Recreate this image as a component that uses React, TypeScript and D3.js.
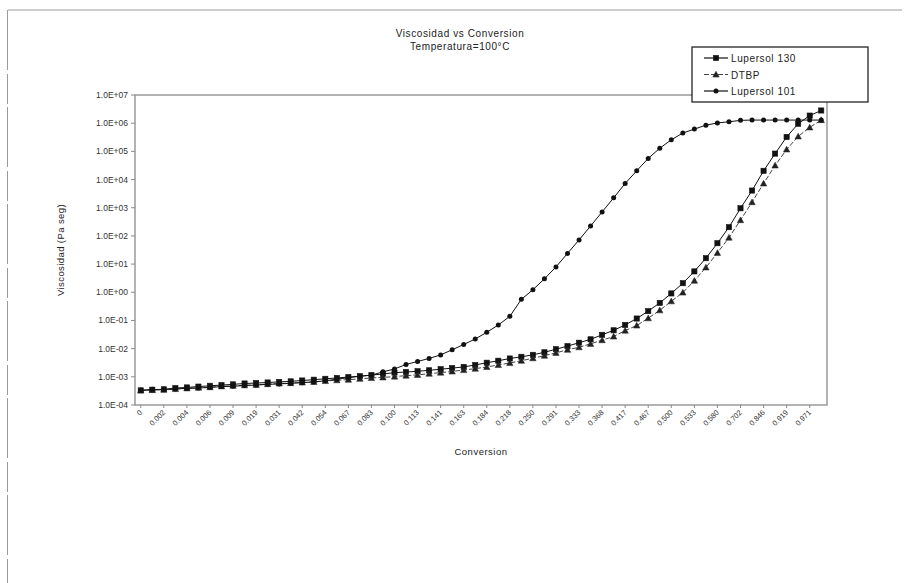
import React from "react";
import * as d3 from "d3";

// Viscosity vs conversion for three initiators at 100 °C (log scale)

const tickLabels = [
  "0", "0.002", "0.004", "0.006", "0.009", "0.019", "0.031", "0.042", "0.054", "0.067",
  "0.083", "0.100", "0.113", "0.141", "0.163", "0.184", "0.218", "0.250", "0.291", "0.333",
  "0.368", "0.417", "0.467", "0.500", "0.533", "0.580", "0.702", "0.846", "0.919", "0.971",
];

const yTickValues = [1e7, 1e6, 1e5, 1e4, 1e3, 1e2, 1e1, 1e0, 1e-1, 1e-2, 1e-3, 1e-4];

const lupersol130 = [
  3.3e-4, 3.5e-4, 3.6e-4, 4.0e-4, 4.2e-4, 4.5e-4, 4.8e-4, 5.1e-4, 5.4e-4, 5.8e-4,
  6.0e-4, 6.3e-4, 6.6e-4, 6.9e-4, 7.4e-4, 7.9e-4, 8.5e-4, 9.1e-4, 9.8e-4, 1.05e-3,
  1.15e-3, 1.26e-3, 1.41e-3, 1.48e-3, 1.58e-3, 1.7e-3, 1.86e-3, 2.04e-3, 2.24e-3, 2.63e-3,
  3.16e-3, 3.72e-3, 4.47e-3, 5.13e-3, 6.03e-3, 7.41e-3, 9.55e-3, 1.23e-2, 1.62e-2, 2.14e-2,
  3.09e-2, 4.47e-2, 6.92e-2, 0.117, 0.214, 0.42, 0.91, 2.1, 5.5, 16.2,
  55, 204, 955, 4070, 20400, 83200, 324000, 955000, 1.86e6, 2.82e6,
];

const dtbp = [
  3.3e-4, 3.4e-4, 3.5e-4, 3.7e-4, 3.9e-4, 4.1e-4, 4.3e-4, 4.6e-4, 4.8e-4, 5.0e-4,
  5.2e-4, 5.5e-4, 5.8e-4, 6.0e-4, 6.3e-4, 6.6e-4, 7.1e-4, 7.6e-4, 7.9e-4, 8.5e-4,
  9.1e-4, 9.5e-4, 1.02e-3, 1.1e-3, 1.17e-3, 1.29e-3, 1.41e-3, 1.55e-3, 1.74e-3, 1.95e-3,
  2.24e-3, 2.63e-3, 3.09e-3, 3.72e-3, 4.57e-3, 5.62e-3, 7.08e-3, 9.12e-3, 1.12e-2, 1.48e-2,
  2.0e-2, 2.69e-2, 4.37e-2, 6.61e-2, 0.12, 0.229, 0.479, 0.977, 2.57, 7.59,
  25.1, 87, 363, 1580, 7240, 31600, 117000, 339000, 708000, 1.29e6,
];

const lupersol101 = [
  3.3e-4, 3.5e-4, 3.5e-4, 3.7e-4, 3.9e-4, 4.0e-4, 4.2e-4, 4.5e-4, 4.6e-4, 4.9e-4,
  5.1e-4, 5.4e-4, 5.6e-4, 5.9e-4, 6.2e-4, 6.6e-4, 7.2e-4, 8.3e-4, 9.3e-4, 1.05e-3,
  1.15e-3, 1.5e-3, 1.9e-3, 2.75e-3, 3.5e-3, 4.5e-3, 6.0e-3, 9.1e-3, 1.4e-2, 2.2e-2,
  3.8e-2, 6.9e-2, 0.14, 0.56, 1.23, 3.0, 7.9, 24, 72, 224,
  708, 2240, 7240, 20400, 56200, 129000, 257000, 447000, 617000, 851000,
  1.02e6, 1.12e6, 1.26e6, 1.29e6, 1.29e6, 1.29e6, 1.29e6, 1.29e6, 1.29e6, 1.29e6,
];

const seriesNames = ["Lupersol 130", "DTBP", "Lupersol 101"];

const W = 910;
const H = 583;
const plot = { left: 135, right: 827, top: 95, bottom: 405 };
const FONT = "'Liberation Sans', Arial, sans-serif";

const fmtExp = (v: number) => {
  const e = Math.round(Math.log10(v));
  const sign = e < 0 ? "-" : "+";
  return `1.0E${sign}${String(Math.abs(e)).padStart(2, "0")}`;
};

type MarkerKind = "square" | "triangle" | "circle";

function Marker({ kind, x, y }: { kind: MarkerKind; x: number; y: number }) {
  if (kind === "square") {
    return <rect x={x - 2.6} y={y - 2.6} width={5.2} height={5.2} fill="#111" stroke="#111" strokeWidth={0.6} />;
  }
  if (kind === "triangle") {
    const s = 3.2;
    return (
      <path
        d={`M${x},${y - s} L${x + s},${y + s * 0.8} L${x - s},${y + s * 0.8} Z`}
        fill="#222"
        stroke="#222"
        strokeWidth={0.5}
      />
    );
  }
  return <circle cx={x} cy={y} r={2.5} fill="#111" />;
}

export default function App() {
  const n = lupersol101.length;
  const indices = d3.range(n);

  const x = d3.scaleBand<number>().domain(indices).range([plot.left, plot.right]).paddingInner(0).paddingOuter(0);
  const cx = (i: number) => (x(i) as number) + x.bandwidth() / 2;
  const y = d3.scaleLog().domain([1e-4, 1e7]).range([plot.bottom, plot.top]);

  const line = d3
    .line<number>()
    .x((_, i) => cx(i))
    .y((d) => y(d));

  const series: { name: string; values: number[]; kind: MarkerKind; color: string; dash?: string }[] = [
    { name: seriesNames[0], values: lupersol130, kind: "square", color: "#111" },
    { name: seriesNames[1], values: dtbp, kind: "triangle", color: "#444", dash: "5,2" },
    { name: seriesNames[2], values: lupersol101, kind: "circle", color: "#111" },
  ];

  const axisColor = "#8a8a8a";
  const legend = { x: 692, y: 47, w: 176, h: 55 };

  return (
    <svg
      width={W}
      height={H}
      viewBox={`0 0 ${W} ${H}`}
      style={{ position: "absolute", left: 0, top: 0, background: "#fff" }}
      fontFamily={FONT}
    >
      <rect x={0} y={0} width={W} height={H} fill="#fff" />
      {/* chart area frame */}
      <line x1={8} y1={10} x2={902} y2={10} stroke="#9a9a9a" strokeWidth={1} />
      <line x1={7.5} y1={10} x2={7.5} y2={H} stroke="#9a9a9a" strokeWidth={1} strokeDasharray="60,4,30,3" />

      {/* titles */}
      <text x={460} y={37} textAnchor="middle" fontSize={10} letterSpacing={0.6} fill="#222">
        Viscosidad vs Conversion
      </text>
      <text x={460} y={50} textAnchor="middle" fontSize={10} letterSpacing={0.6} fill="#222">
        Temperatura=100°C
      </text>

      {/* plot frame */}
      <rect
        x={plot.left}
        y={plot.top}
        width={plot.right - plot.left}
        height={plot.bottom - plot.top}
        fill="none"
        stroke={axisColor}
        strokeWidth={1.3}
      />

      {/* y axis ticks and labels */}
      {yTickValues.map((v) => (
        <g key={v}>
          <line x1={plot.left - 4} x2={plot.left} y1={y(v)} y2={y(v)} stroke={axisColor} strokeWidth={1} />
          <text x={plot.left - 7} y={y(v) + 3} textAnchor="end" fontSize={8.5} fill="#333">
            {fmtExp(v)}
          </text>
        </g>
      ))}

      {/* x axis ticks and labels, one label every second sample */}
      {tickLabels.map((lab, k) => {
        const i = k * 2;
        const px = cx(i);
        return (
          <g key={k}>
            <line x1={px} x2={px} y1={plot.bottom} y2={plot.bottom + 3} stroke={axisColor} strokeWidth={1} />
            <text
              transform={`translate(${px + 2},${plot.bottom + 8}) rotate(-45)`}
              textAnchor="end"
              fontSize={7.5}
              fill="#333"
            >
              {lab}
            </text>
          </g>
        );
      })}

      {/* axis titles */}
      <text x={481} y={455} textAnchor="middle" fontSize={9.5} letterSpacing={0.5} fill="#222">
        Conversion
      </text>
      <text
        transform={`translate(64,${(plot.top + plot.bottom) / 2}) rotate(-90)`}
        textAnchor="middle"
        fontSize={9.5}
        letterSpacing={0.4}
        fill="#222"
      >
        Viscosidad (Pa seg)
      </text>

      {/* series */}
      {series.map((s) => (
        <g key={s.name}>
          <path d={line(s.values) || ""} fill="none" stroke={s.color} strokeWidth={1} strokeDasharray={s.dash} />
          {s.values.map((v, i) => (
            <Marker key={i} kind={s.kind} x={cx(i)} y={y(v)} />
          ))}
        </g>
      ))}

      {/* legend */}
      <rect x={legend.x} y={legend.y} width={legend.w} height={legend.h} fill="#fff" stroke="#111" strokeWidth={1.2} />
      {series.map((s, k) => {
        const ly = legend.y + 11 + k * 16.5;
        return (
          <g key={s.name}>
            <line
              x1={legend.x + 12}
              x2={legend.x + 36}
              y1={ly}
              y2={ly}
              stroke={s.color}
              strokeWidth={1.2}
              strokeDasharray={s.dash}
            />
            <Marker kind={s.kind} x={legend.x + 24} y={ly} />
            <text x={legend.x + 39} y={ly + 4} fontSize={10} letterSpacing={0.6} fill="#222">
              {s.name}
            </text>
          </g>
        );
      })}
    </svg>
  );
}
